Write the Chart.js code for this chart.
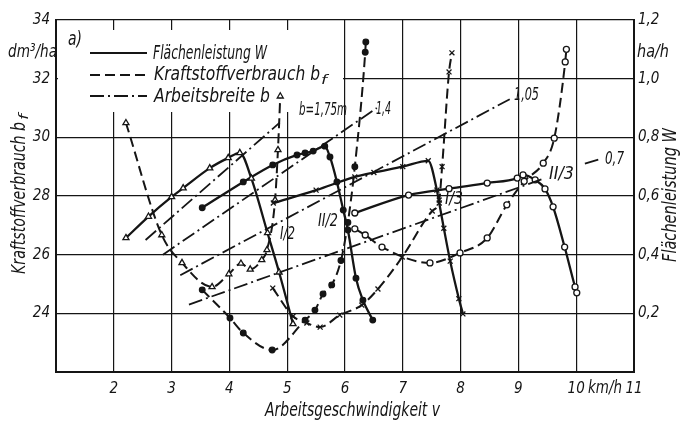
<!DOCTYPE html>
<html>
<head>
<meta charset="utf-8">
<script src="https://cdn.jsdelivr.net/npm/chart.js@4/dist/chart.umd.min.js"></script>
<style>
  html, body { margin: 0; padding: 0; background: #fff; }
  #wrap { width: 684px; height: 422px; }
</style>
</head>
<body>
<div id="wrap"><canvas id="chart" width="684" height="422"></canvas></div>
<script>
// speed v (km/h) and read values, per gear
const vI2W = [2.21, 2.6, 3.0, 3.2, 3.66, 3.98, 4.18, 4.38, 4.66, 4.86, 5.1];
const wI2 = [0.457, 0.53, 0.597, 0.627, 0.695, 0.73, 0.747, 0.66, 0.474, 0.34, 0.164];
const vII2W = [3.53, 4.24, 4.75, 5.17, 5.31, 5.45, 5.65, 5.74, 5.86, 5.97, 6.05, 6.19, 6.31, 6.48];
const wII2 = [0.56, 0.648, 0.706, 0.74, 0.747, 0.753, 0.77, 0.733, 0.648, 0.552, 0.484, 0.32, 0.245, 0.177];
const vI3W = [4.76, 5.5, 6.17, 6.5, 7.0, 7.44, 7.59, 7.63, 7.71, 7.82, 7.97, 8.04];
const wI3 = [0.576, 0.62, 0.665, 0.68, 0.7, 0.72, 0.62, 0.576, 0.49, 0.378, 0.25, 0.198];
const vII3W = [6.17, 7.1, 7.8, 8.46, 8.98, 9.08, 9.29, 9.46, 9.6, 9.8, 9.98, 10.01];
const wII3 = [0.542, 0.603, 0.625, 0.644, 0.661, 0.672, 0.655, 0.624, 0.563, 0.426, 0.29, 0.27];

const vI2B = [2.21, 2.83, 3.18, 3.7, 3.99, 4.2, 4.36, 4.56, 4.65, 4.79, 4.84, 4.88];
const bfI2 = [30.49, 26.67, 25.72, 24.9, 25.34, 25.7, 25.5, 25.82, 26.16, 27.86, 29.57, 31.4];
const vII2B = [3.53, 4.01, 4.24, 4.74, 5.31, 5.48, 5.62, 5.77, 5.93, 6.05, 6.17, 6.35, 6.36];
const bfII2 = [24.8, 23.84, 23.33, 22.75, 23.77, 24.11, 24.66, 24.97, 25.8, 27.1, 29.0, 32.9, 33.25];
const vI3B = [4.75, 5.1, 5.34, 5.57, 5.91, 6.29, 6.57, 6.99, 7.51, 7.63, 7.68, 7.8, 7.85];
const bfI3 = [24.86, 23.9, 23.67, 23.53, 23.94, 24.28, 24.83, 25.92, 27.49, 27.86, 29.0, 32.23, 32.88];
const vII3B = [6.17, 6.35, 6.64, 7.47, 7.99, 8.46, 8.8, 9.1, 9.43, 9.62, 9.81, 9.83];
const bfII3 = [26.88, 26.67, 26.26, 25.72, 26.06, 26.57, 27.7, 28.5, 29.12, 29.97, 32.57, 33.0];

// working width lines (ends), W in ha/h
const vB175 = [2.55, 4.87], wB175 = [0.45, 0.85];
const vB14 = [2.85, 6.55], wB14 = [0.40, 0.90];
const vB105 = [3.15, 8.85], wB105 = [0.33, 0.93];
const vB07 = [3.3, 9.45], wB07 = [0.23, 0.66];
const vB07b = [10.15, 10.4], wB07b = [0.71, 0.725];

const xTicks = [1, 2, 3, 4, 5, 6, 7, 8, 9, 10, 11];
const FONT = '"DejaVu Sans Condensed", "DejaVu Sans", sans-serif';
const INK = '#151515';

const pts = (xs, ys) => xs.map((x, i) => ({ x, y: ys[i] }));

function curve(data, axis, dash, style, fill, r) {
  return {
    data, yAxisID: axis,
    borderColor: INK, borderWidth: dash ? 2 : 2.3, borderDash: dash || [],
    pointStyle: style, pointRadius: r, pointBackgroundColor: fill,
    pointBorderColor: INK, pointBorderWidth: 1.3,
    cubicInterpolationMode: 'monotone', clip: false
  };
}
function widthLine(data) {
  return { data, yAxisID: 'y1', borderColor: INK, borderWidth: 1.8,
    borderDash: [14, 4, 2, 4], pointRadius: 0, tension: 0 };
}

// text squeezed to the width measured on the original
function fitText(ctx, s, x, y, w, size, rot) {
  ctx.save();
  ctx.font = `italic ${size}px ${FONT}`;
  ctx.fillStyle = INK;
  ctx.textBaseline = 'middle';
  const nat = ctx.measureText(s).width;
  ctx.translate(x, y);
  if (rot) ctx.rotate(rot);
  ctx.scale(w / nat, 1);
  ctx.fillText(s, 0, 0);
  ctx.restore();
}

const paperPlugin = {
  id: 'paper',
  beforeDatasetsDraw(chart) {
    const ctx = chart.ctx;
    ctx.save();
    ctx.fillStyle = '#fff';
    ctx.fillRect(58, 30, 285, 82); // legend box covers the grid
    ctx.restore();
  },
  afterDraw(chart) {
    const ctx = chart.ctx;
    ctx.save();
    ctx.strokeStyle = INK;
    ctx.lineWidth = 2.2;
    [[53, []], [75, [10, 5]], [96, [14, 4, 2, 4]]].forEach(([y, d]) => {
      ctx.setLineDash(d);
      ctx.beginPath(); ctx.moveTo(90, y); ctx.lineTo(147, y); ctx.stroke();
    });
    ctx.restore();

    fitText(ctx, 'a)', 68, 40, 14, 20);
    fitText(ctx, 'Flächenleistung W', 153, 54, 114, 20);
    fitText(ctx, 'Kraftstoffverbrauch b', 154, 75, 166, 20);
    fitText(ctx, 'f', 321, 81, 6, 13);
    fitText(ctx, 'Arbeitsbreite b', 154, 97, 116, 20);

    fitText(ctx, 'dm³/ha', 8, 52, 49, 18);
    fitText(ctx, 'ha/h', 637, 52, 32, 18);
    fitText(ctx, 'km/h', 588, 389, 34, 17);
    fitText(ctx, 'Arbeitsgeschwindigkeit v', 265, 411, 175, 20);
    fitText(ctx, 'Kraftstoffverbrauch b', 20, 274, 152, 19, -Math.PI / 2);
    fitText(ctx, 'f', 25, 120, 6, 13, -Math.PI / 2);
    fitText(ctx, 'Flächenleistung W', 671, 262, 134, 19, -Math.PI / 2);

    fitText(ctx, 'b=1,75m', 299, 110, 48, 18);
    fitText(ctx, '1,4', 376, 110, 15, 17);
    fitText(ctx, '1,05', 514, 96, 25, 17);
    fitText(ctx, '0,7', 605, 160, 19, 17);
    fitText(ctx, 'I/2', 280, 234, 15, 18);
    fitText(ctx, 'II/2', 318, 221, 20, 18);
    fitText(ctx, 'I/3', 445, 199, 18, 18);
    fitText(ctx, 'II/3', 549, 174, 25, 18);
  }
};

const tickFont = { family: FONT, size: 15, style: 'italic' };

new Chart(document.getElementById('chart'), {
  type: 'line',
  data: {
    datasets: [
      widthLine(pts(vB175, wB175)),
      widthLine(pts(vB14, wB14)),
      widthLine(pts(vB105, wB105)),
      widthLine(pts(vB07, wB07)),
      widthLine(pts(vB07b, wB07b)),
      curve(pts(vI2W, wI2), 'y1', null, 'triangle', '#fff', 3.5),
      curve(pts(vII2W, wII2), 'y1', null, 'circle', INK, 2.8),
      curve(pts(vI3W, wI3), 'y1', null, 'crossRot', INK, 3.5),
      curve(pts(vII3W, wII3), 'y1', null, 'circle', '#fff', 3),
      curve(pts(vI2B, bfI2), 'y', [10, 5], 'triangle', '#fff', 3.5),
      curve(pts(vII2B, bfII2), 'y', [10, 5], 'circle', INK, 2.8),
      curve(pts(vI3B, bfI3), 'y', [10, 5], 'crossRot', INK, 3.5),
      curve(pts(vII3B, bfII3), 'y', [10, 5], 'circle', '#fff', 3)
    ]
  },
  options: {
    responsive: false,
    animation: false,
    layout: { padding: { top: 20, left: 0, right: 0, bottom: 0 } },
    plugins: { legend: { display: false }, tooltip: { enabled: false } },
    scales: {
      x: {
        type: 'linear', min: 1, max: 11,
        afterBuildTicks: (s) => { s.ticks = xTicks.map((v) => ({ value: v })); },
        afterFit: (s) => { s.height = 50; },
        ticks: { font: tickFont, color: INK, padding: 8,
          callback: (v) => (v === 1 ? '' : String(v)) },
        grid: { color: INK, lineWidth: 1.2, drawTicks: false },
        border: { color: INK, width: 2 }
      },
      y: {
        position: 'left', min: 22, max: 34,
        afterFit: (s) => { s.width = 56; },
        ticks: { stepSize: 2, font: tickFont, color: INK, padding: 6,
          callback: (v) => (v === 22 ? '' : String(v)) },
        grid: { color: INK, lineWidth: 1.2, drawTicks: false },
        border: { color: INK, width: 2 }
      },
      y1: {
        position: 'right', min: 0, max: 1.2,
        afterFit: (s) => { s.width = 50; },
        ticks: { stepSize: 0.2, font: tickFont, color: INK, padding: 4,
          callback: (v) => (v < 0.01 ? '' : v.toFixed(1).replace('.', ',')) },
        grid: { display: false, drawTicks: false },
        border: { color: INK, width: 2 }
      }
    }
  },
  plugins: [paperPlugin]
});
</script>
</body>
</html>
